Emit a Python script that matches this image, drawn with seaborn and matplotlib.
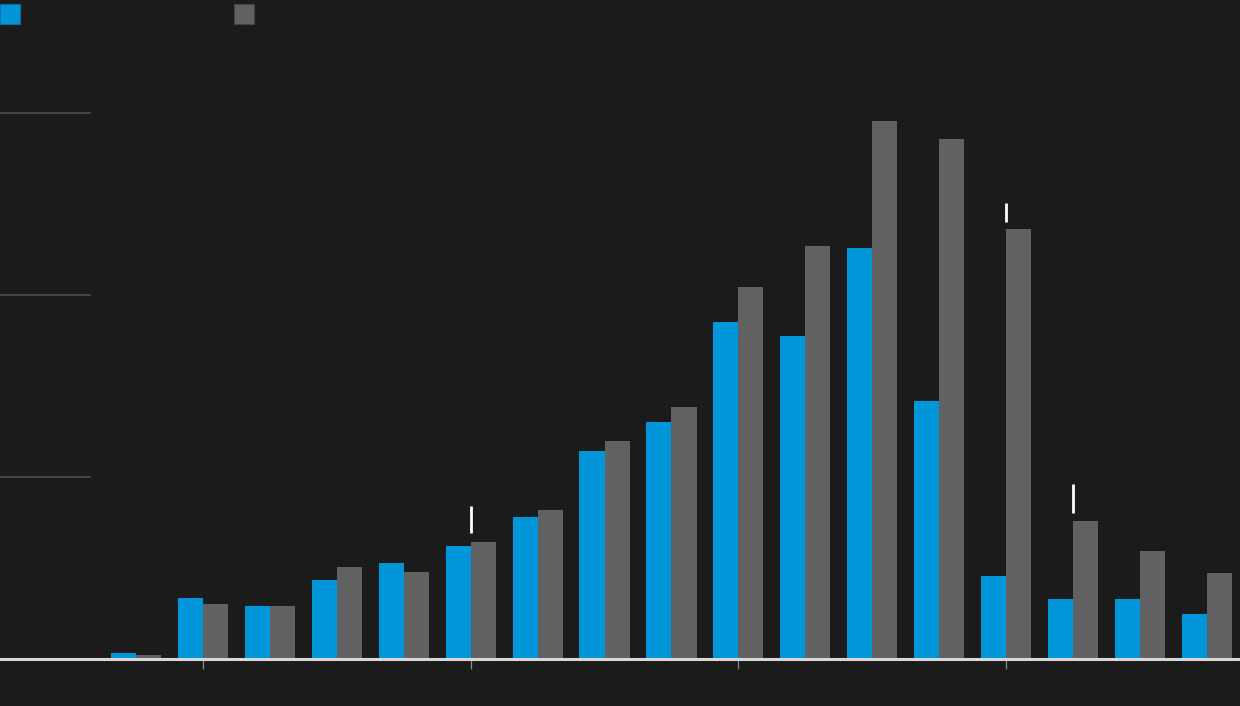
import matplotlib
matplotlib.use("Agg")
import matplotlib.pyplot as plt
from matplotlib.patches import Patch
import seaborn as sns
import pandas as pd

# ---- data (gridline step = 10 units) ----
categories = [f"c{i}" for i in range(17)]
series_a = [0.33, 3.35, 2.91, 4.34, 5.27, 6.21, 7.80, 11.43, 13.02,
            18.52, 17.75, 22.58, 14.18, 4.56, 3.30, 3.30, 2.47]
series_b = [0.22, 3.02, 2.91, 5.05, 4.78, 6.43, 8.19, 11.98, 13.85,
            20.44, 22.69, 29.56, 28.57, 23.63, 7.58, 5.93, 4.73]
series_names = ["A", "B"]
grid_values = [10, 20, 30]
tick_groups = [1, 5, 9, 13]
mark_groups = [5, 13, 14]
mark_low = [6.92, 24.01, 8.02]
mark_high = [8.41, 25.05, 9.62]

BG = "#1b1b1b"
BLUE = "#0096d9"
GREY = "#616161"

df = pd.DataFrame({
    "cat": categories * 2,
    "value": series_a + series_b,
    "series": [series_names[0]] * len(categories) + [series_names[1]] * len(categories),
})

sns.set_theme(style="dark")
W, H = 1240, 706
fig = plt.figure(figsize=(W / 100, H / 100), dpi=100, facecolor=BG)
base_px = 659
ax = fig.add_axes([0, (H - base_px) / H, 1, base_px / H])
ax.set_facecolor(BG)

sns.barplot(data=df, x="cat", y="value", hue="series", order=categories,
            palette=[BLUE, GREY], width=0.75, dodge=True, ax=ax,
            linewidth=0, saturation=1, legend=False)

px_per_unit = 18.2
group_px = 66.92
first_center = 136.1
ax.set_xlim(-first_center / group_px, (W - first_center) / group_px)
ax.set_ylim(0, base_px / px_per_unit)

for s in ax.spines.values():
    s.set_visible(False)
ax.set_xlabel("")
ax.set_ylabel("")
ax.set_yticks([])
ax.set_xticks(tick_groups)
ax.set_xticklabels([""] * len(tick_groups))
ax.tick_params(axis="x", direction="out", length=7.2, width=0.9, color="#8a8a8a",
               bottom=True, pad=0)
ax.grid(False)

# short gridlines at left
ax.hlines(grid_values, 0, 91 / W, transform=ax.get_yaxis_transform(),
          color="#4e4e4e", lw=1.2, clip_on=False)
# baseline
ax.axhline(0, color="#d8d8d8", lw=2.2, clip_on=False, zorder=5)
# small white marks
ax.vlines(mark_groups, mark_low, mark_high, color="white", lw=2, zorder=6)

# legend (no text)
fs = 10
px_per_em = fs * 100 / 72
fig.legend(handles=[Patch(facecolor=BLUE, edgecolor="#0a6fa0", lw=0.8),
                    Patch(facecolor=GREY, edgecolor="#444444", lw=0.8)],
           labels=["", ""], loc="upper left", bbox_to_anchor=(0, 1 - 4 / H),
           ncol=2, frameon=False, fontsize=fs, borderpad=0, borderaxespad=0,
           handlelength=20 / px_per_em, handleheight=25 / px_per_em,
           handletextpad=0, columnspacing=(234 - 20) / px_per_em)

fig.savefig("out.png", dpi=100, facecolor=BG)
